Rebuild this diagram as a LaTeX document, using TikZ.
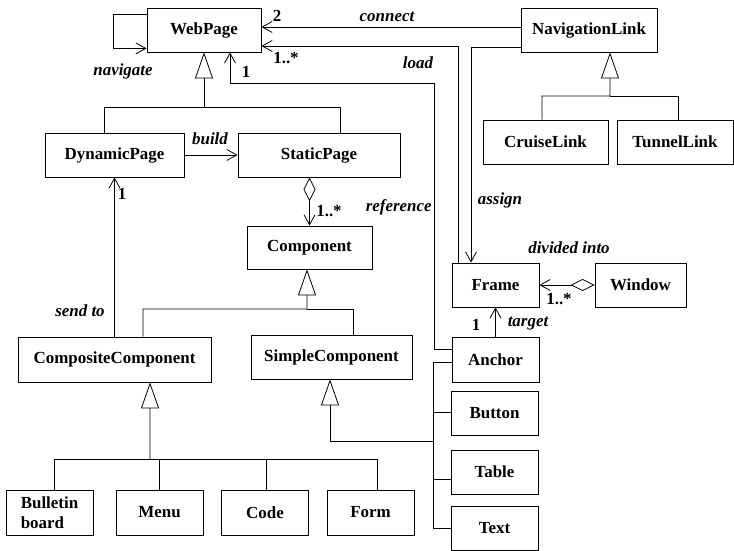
\documentclass[tikz,border=0pt]{standalone}
\usepackage{fontspec}
\setmainfont{Liberation Serif}
\usetikzlibrary{arrows.meta}

\begin{document}
\begin{tikzpicture}[x=1bp, y=-1bp, line width=0.8bp,
  every node/.style={font=\fontsize{17}{20}\selectfont\bfseries, inner sep=1pt},
  cls/.style={draw, minimum height=44bp, inner sep=3pt},
  lab/.style={font=\fontsize{17}{20}\selectfont\bfseries\itshape},
  >={Straight Barb[length=10bp,width=11bp]},
  inherit/.style={-{Triangle[open,length=26bp,width=18bp]}},
  agg/.style={{Diamond[open,length=24bp,width=12bp]}->}]
\useasboundingbox (0,0) rectangle (734,551);
% classes
\node[cls, minimum width=114bp] (web) at (204,30) {WebPage}; \node[cls, minimum width=136bp] (nav) at (589,30) {NavigationLink};
\node[cls, minimum width=125bp] (cruise) at (545.5,142) {CruiseLink}; \node[cls, minimum width=116bp] (tunnel) at (675,142) {TunnelLink};
\node[cls, minimum width=139bp] (dyn) at (114.5,155) {DynamicPage}; \node[cls, minimum width=162bp] (static) at (319,155) {StaticPage};
\node[cls, minimum width=125bp, minimum height=43bp] (comp) at (309.5,247.5) {Component};
\node[cls, minimum width=87bp] (frame) at (495.5,285) {Frame}; \node[cls, minimum width=91bp] (window) at (640.5,285) {Window};
\node[cls, minimum width=193bp, minimum height=45bp] (composite) at (114.5,359.5) {CompositeComponent};
\node[cls, minimum width=161bp] (simple) at (331.5,357) {SimpleComponent};
\node[cls, minimum width=87bp, minimum height=45bp] (anchor) at (495.5,359.5) {Anchor};
\node[cls, minimum width=87bp] (button) at (494.5,413) {Button}; \node[cls, minimum width=87bp] (table) at (494.5,472) {Table};
\node[cls, minimum width=87bp] (text) at (494.5,528) {Text};
\node[cls, minimum width=87bp, minimum height=45bp, align=left] (bulletin) at (49.5,512.5) {Bulletin\\board};
\node[cls, minimum width=87bp, minimum height=45bp] (menu) at (159.5,512.5) {Menu};
\node[cls, minimum width=87bp, minimum height=45bp] (code) at (265,512.5) {Code};
\node[cls, minimum width=87bp, minimum height=45bp] (form) at (370.5,512.5) {Form};
% generalisation
\coordinate (pagefork) at (204,107); \coordinate (linkfork) at (610,96); \coordinate (partfork) at (307,309);
\coordinate (widgetfork) at (150,459); \coordinate (elembus) at (433,441);
\draw[inherit] ([xshift=-10.5bp]dyn.north) |- (pagefork) -- (web.south);
\draw ([xshift=21bp]static.north) |- (pagefork);
\draw[inherit] ([xshift=-3.5bp]cruise.north) |- (linkfork) -- ([xshift=21bp]nav.south);
\draw ([xshift=3bp]tunnel.north) |- (linkfork);
\draw[inherit] ([xshift=28.5bp]composite.north) |- (partfork) -- ([xshift=-2.5bp]comp.south);
\draw ([xshift=21.5bp]simple.north) |- (partfork);
\draw[inherit] (widgetfork) -- ([xshift=35.5bp]composite.south);
\foreach \n/\dx in {bulletin/4.5,menu/0,code/1,form/6.5}
  \draw ([xshift=\dx bp]\n.north) |- (widgetfork);
\draw[inherit] (elembus) -| ([xshift=-1.5bp]simple.south);
\foreach \n/\dy in {anchor/-2.5,button/1,table/-7,text/0}
  \draw ([yshift=\dy bp]\n.west) -| (elembus);
% associations
\coordinate (refbend) at (434,83);
\draw[->] ([yshift=-7bp]web.north west) -- ++(-33,0) |- ([yshift=4bp]web.south west);
\draw[->] (dyn) -- (static);
\draw[agg] (static.south -| comp.north) -- (comp.north);
\draw[->] (composite.north) -- (dyn.south);
\draw[->] ([yshift=3bp]nav.west) -- ([yshift=3bp]web.east);
\draw[->] ([xshift=-37.5bp]frame.north) |- ([yshift=-16bp]web.east);
\draw[->] ([yshift=-17bp]nav.west) -| ([xshift=-24.5bp]frame.north);
\draw[->] ([yshift=10.5bp]anchor.west) -| (refbend) -| ([xshift=26bp]web.south);
\draw[agg] (window.west) -- (frame.east);
\draw[->] (anchor.north) -- (frame.south);
% role names and multiplicities
\node[lab] (navigate) at (123,71) {navigate}; \node[lab] (connect) at (387,17) {connect};
\node[lab] (load) at (418,63) {load}; \node[lab] (build) at (210,139) {build};
\node[lab, anchor=east] (reference) at (433,207) {reference}; \node[lab] (assign) at (500,200) {assign};
\node[lab] (divided) at (569,248) {divided into}; \node[lab] (target) at (528,324) {target};
\node[lab] (sendto) at (80,311) {send to};
\node (m2) at (277,16) {2}; \node (mload) at (286,58) {1..*}; \node (mref) at (246,72) {1};
\node (mcomp) at (329,211) {1..*}; \node (msend) at (122,194) {1};
\node (mwin) at (559,299) {1..*}; \node (mtarget) at (476,325) {1};
\end{tikzpicture}
\end{document}
